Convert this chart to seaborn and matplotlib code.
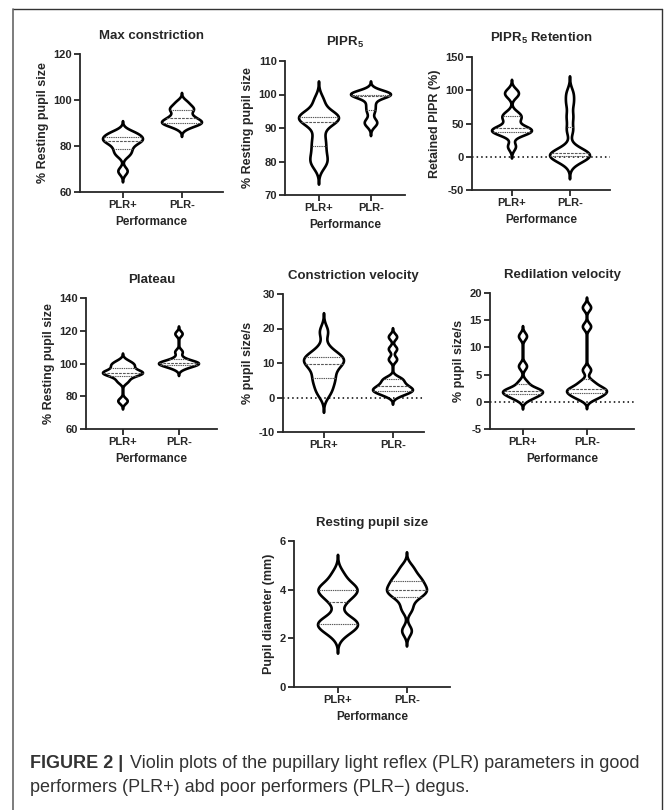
"""Violin plots of pupillary light reflex parameters (PLR+ vs PLR-)"""

import numpy as np
import pandas as pd
import matplotlib
matplotlib.use('Agg')
import matplotlib.pyplot as plt
from matplotlib.lines import Line2D
import seaborn as sns

sns.set_style('ticks')
plt.rcParams['font.family'] = ['Liberation Sans', 'DejaVu Sans']
plt.rcParams['mathtext.default'] = 'regular'
plt.rcParams['axes.unicode_minus'] = False

groups = ['PLR+', 'PLR-']

max_con_pos = [69, 76, 78, 80, 82, 82, 83, 84, 85, 86]
max_con_neg = [88, 89.5, 90, 90, 91, 92, 93, 95, 96, 97, 99]
pipr_pos = [79, 81, 84, 87, 91, 92.5, 93, 93.5, 94, 98]
pipr_neg = [91, 92, 95, 97, 99.5, 99.8, 100, 100, 100.2, 100.5]
ret_pos = [15, 33, 36, 38, 40, 42, 44, 55, 60, 65, 92, 98]
ret_neg = [-8, -3, 0, 1, 3, 4, 6, 12, 40, 60, 80, 95]
plat_pos = [77, 89, 92, 93.5, 94, 95, 95, 98, 99, 101]
plat_neg = [97, 98.5, 99, 100, 100, 100.5, 101, 103, 107, 118]
cvel_pos = [1, 3, 5, 6, 8, 9.5, 10, 11, 11.5, 12, 14, 19]
cvel_neg = [0.5, 1.2, 1.8, 2, 2.3, 2.8, 3.4, 4, 5, 5.5, 11, 14, 17.5]
rvel_pos = [0.5, 1, 1.4, 1.7, 1.9, 2.1, 2.4, 3.5, 6.5, 12]
rvel_neg = [0.5, 1, 1.3, 1.7, 2, 2.2, 2.4, 3, 3.7, 5.8, 13.8, 17.3]
rest_pos = [2.2, 2.45, 2.55, 2.65, 2.8, 3.5, 3.8, 3.95, 4.05, 4.15, 4.6]
rest_neg = [2.3, 3.2, 3.6, 3.8, 3.9, 4.0, 4.1, 4.3, 4.4, 4.6, 4.9]

titles = ['Max constriction', 'PIPR$_5$', 'PIPR$_5$ Retention', 'Plateau',
          'Constriction velocity', 'Redilation velocity', 'Resting pupil size']
ylabels = ['% Resting pupil size', '% Resting pupil size', 'Retained PIPR (%)',
           '% Resting pupil size', '% pupil size/s', '% pupil size/s',
           'Pupil diameter (mm)']
yticks = [[60, 80, 100, 120], [70, 80, 90, 100, 110], [-50, 0, 50, 100, 150],
          [60, 80, 100, 120, 140], [-10, 0, 10, 20, 30], [-5, 0, 5, 10, 15, 20],
          [0, 2, 4, 6]]
series = [(max_con_pos, max_con_neg), (pipr_pos, pipr_neg), (ret_pos, ret_neg),
          (plat_pos, plat_neg), (cvel_pos, cvel_neg), (rvel_pos, rvel_neg),
          (rest_pos, rest_neg)]
# kde smoothing per violin
bw = [(0.5, 0.62), (0.5, 0.5), (0.4, 0.4), (0.4, 0.4), (0.6, 0.27),
      (0.29, 0.19), (0.54, 0.48)]
zero_line = [False, False, True, False, True, True, False]
show_xlabel = [True, True, True, True, False, True, True]

# layout in pixels: left spine, x-axis end, top, bottom, tick1, tick2
boxes = [(80, 223, 54, 192, 123, 182),
         (285, 405, 61, 195, 319, 371),
         (472, 610, 57, 190, 512, 570),
         (86, 217, 298, 429, 123, 179),
         (283, 424, 294, 432, 324, 393),
         (490, 634, 293, 429, 523, 587),
         (294, 450, 541, 687, 338, 407)]

W, H = 666, 810
fig = plt.figure(figsize=(W / 100, H / 100), dpi=100)

for i in range(7):
    x0, x1, yt, yb, t1, t2 = boxes[i]
    ax = fig.add_axes([x0 / W, 1 - yb / H, (x1 - x0) / W, (yb - yt) / H])
    sp = t2 - t1
    if zero_line[i]:
        ax.axhline(0, color='black', linestyle=(0, (1, 2)), linewidth=1.1, zorder=0)
    for g, vals, adj in zip(groups, series[i], bw[i]):
        df = pd.DataFrame({'group': [g] * len(vals), 'value': vals})
        sns.violinplot(data=df, x='group', y='value', order=groups, ax=ax,
                       fill=False, color='black', linewidth=1.9, inner='quart',
                       inner_kws=dict(color='0.35', linewidth=0.8),
                       density_norm='width', width=40 / sp, bw_adjust=adj, cut=3)
    ax.set_xlim(-(t1 - x0) / sp, 1 + (x1 - t2) / sp)
    ax.set_ylim(yticks[i][0], yticks[i][-1])
    ax.set_yticks(yticks[i])
    ax.set_title(titles[i], fontsize=9.5, fontweight='bold', pad=11)
    ax.set_ylabel(ylabels[i], fontsize=9, fontweight='bold', labelpad=3)
    ax.set_xlabel('Performance' if show_xlabel[i] else '', fontsize=8.5,
                  fontweight='bold', labelpad=4)
    for s in ['top', 'right']:
        ax.spines[s].set_visible(False)
    for s in ['left', 'bottom']:
        ax.spines[s].set_linewidth(1.3)
    ax.tick_params(axis='both', width=1.3, length=4, labelsize=8, pad=2)
    for lab in ax.get_xticklabels() + ax.get_yticklabels():
        lab.set_fontweight('bold')

# frame around the figure
fc = '#333333'
fig.add_artist(Line2D([13 / W, 662 / W], [1 - 9 / H, 1 - 9 / H], color=fc, lw=1))
fig.add_artist(Line2D([13 / W, 13 / W], [1 - 9 / H, 0], color='#666666', lw=1.2))
fig.add_artist(Line2D([662 / W, 662 / W], [1 - 9 / H, 0], color=fc, lw=1))

cap_kw = dict(fontsize=13, color='#333333', va='center')
t = fig.text(30 / W, 1 - 763 / H, 'FIGURE 2 |', fontweight='bold', **cap_kw)
fig.canvas.draw()
bb = t.get_window_extent()
fig.text((bb.x1 + 7) / W, 1 - 763 / H,
         'Violin plots of the pupillary light reflex (PLR) parameters in good',
         **cap_kw)
fig.text(30 / W, 1 - 788 / H, 'performers (PLR+) abd poor performers (PLR\u2212) degus.',
         **cap_kw)

fig.savefig('out.png', dpi=100)
